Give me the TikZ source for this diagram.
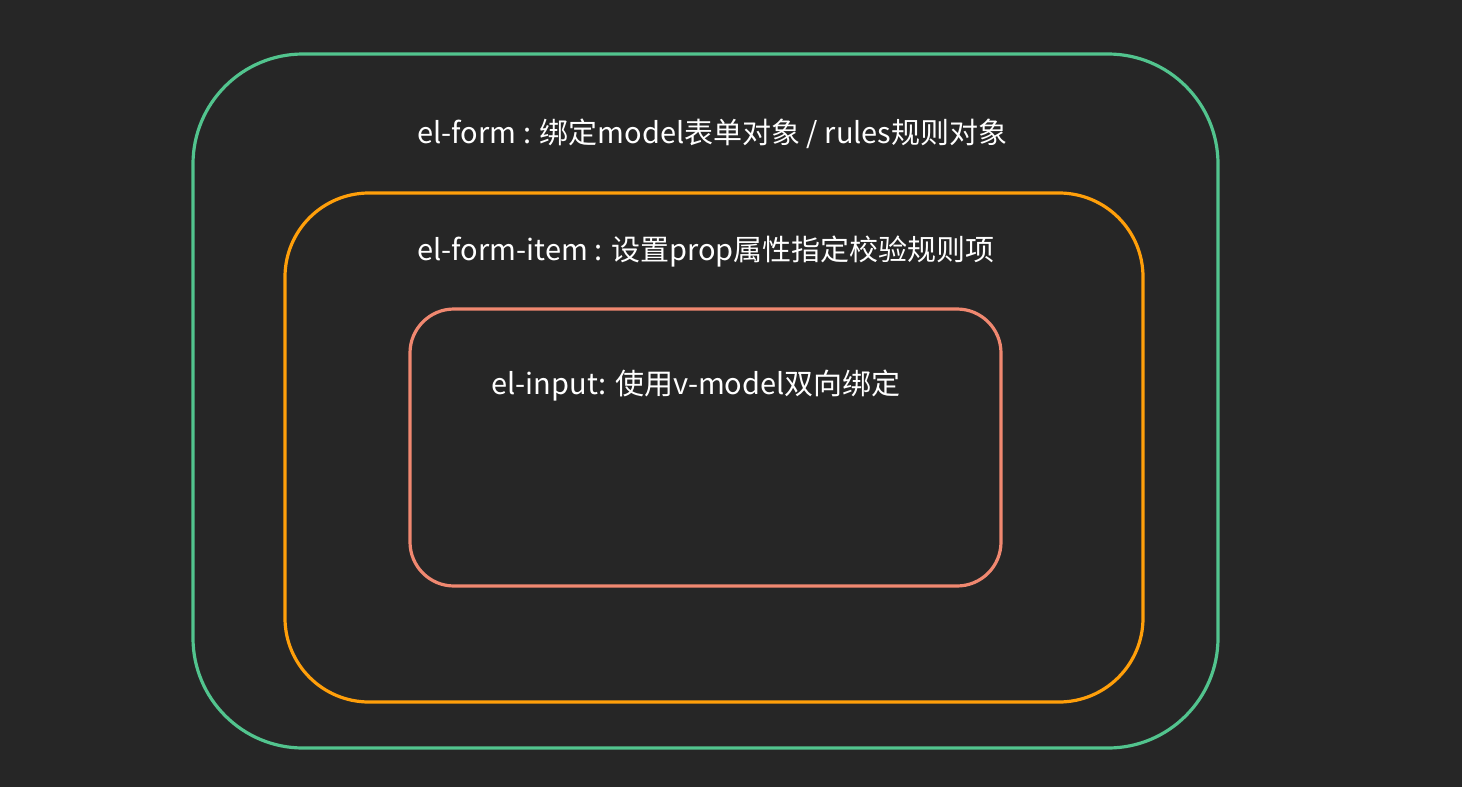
\documentclass[tikz,border=0pt]{standalone}
\usepackage{fontspec}
\setmainfont{Noto Sans CJK SC}
\definecolor{bgdark}{HTML}{262626}
\definecolor{formgreen}{HTML}{52C48E}
\definecolor{itemorange}{HTML}{FF9F0A}
\definecolor{inputsalmon}{HTML}{F08870}

\begin{document}
\begin{tikzpicture}[x=0.5pt,y=-0.5pt,
	roundbox/.style={draw,line width=1.6pt,inner sep=0pt,fill=none},
	caption/.style={anchor=west,inner sep=0pt,text=white,font=\fontsize{14.5}{17}\selectfont}]
		\fill[bgdark] (0,0) rectangle (1462,787);
		\useasboundingbox (0,0) rectangle (1462,787);

		\node[roundbox,formgreen,rounded corners=55pt,minimum width=512.5pt,minimum height=347pt]		(formbox)	at (705.5,401)	{};
		\node[roundbox,itemorange,rounded corners=42pt,minimum width=429pt,minimum height=254.5pt]		(itembox)	at (714,447.5)	{};
		\node[roundbox,inputsalmon,rounded corners=22pt,minimum width=295.5pt,minimum height=138.5pt]	(inputbox)	at (705.5,447.5)	{};

		\node[caption]	(formtext)	at (417,134)	{el-form : 绑定model表单对象 / rules规则对象};
		\node[caption]	(itemtext)	at (417,252)	{el-form-item : 设置prop属性指定校验规则项};
		\node[caption]	(inputtext)	at (491,386)	{el-input: 使用v-model双向绑定};
	\end{tikzpicture}
\end{document}
